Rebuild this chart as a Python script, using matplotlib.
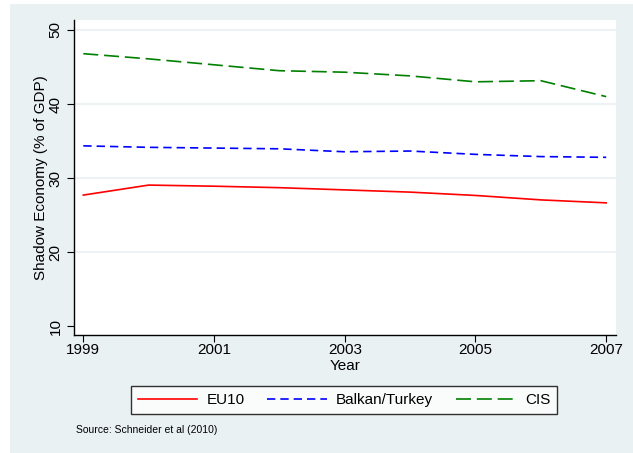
import matplotlib.pyplot as plt
import matplotlib.patches as mpatches

plt.rcParams['font.family'] = ['Liberation Sans', 'DejaVu Sans']

# Data
years = [1999, 2000, 2001, 2002, 2003, 2004, 2005, 2006, 2007]
eu10 = [27.7, 29.05, 28.9, 28.7, 28.4, 28.1, 27.65, 27.05, 26.65]
balkan = [34.35, 34.15, 34.05, 33.95, 33.55, 33.65, 33.2, 32.9, 32.8]
cis = [46.8, 46.1, 45.3, 44.5, 44.3, 43.8, 43.0, 43.15, 41.0]
xticks = [1999, 2001, 2003, 2005, 2007]
yticks = [10, 20, 30, 40, 50]

bg = '#eaf1f3'

fig = plt.figure(figsize=(6.33, 4.53), dpi=100)
fig.patch.set_facecolor('white')
# Stata-like outer panel
fig.patches.append(mpatches.Rectangle((10/633, 0), 1, 1 - 4/453, transform=fig.transFigure,
                                      facecolor=bg, edgecolor='none', zorder=-10))

ax = fig.add_axes([73.5/633, 1 - 335/453, (616 - 73.5)/633, (335 - 20)/453])
ax.set_facecolor('white')

for y in [20, 30, 40, 50]:
    ax.axhline(y, color=bg, linewidth=1.2, zorder=0)

ax.plot(years, eu10, color='red', linewidth=1.2, label='EU10')
ax.plot(years, balkan, color='blue', linewidth=1.2, dashes=(5, 3), label='Balkan/Turkey')
ax.plot(years, cis, color='green', linewidth=1.2, dashes=(9, 3.5), label='CIS')

ax.set_xlim(1998.85, 2007.15)
ax.set_ylim(8.8, 51.35)
ax.set_xticks(xticks)
ax.set_xticklabels([str(v) for v in xticks], fontsize=11)
ax.set_yticks(yticks)
ax.set_yticklabels([str(v) for v in yticks], fontsize=11, rotation=90, va='center')
ax.tick_params(axis='both', length=5, width=0.8, color='black')
ax.tick_params(axis='x', pad=1)
ax.tick_params(axis='y', pad=3)

for s in ['top', 'right']:
    ax.spines[s].set_visible(False)
for s in ['left', 'bottom']:
    ax.spines[s].set_linewidth(1.0)

ax.set_xlabel('Year', fontsize=11, labelpad=1)
ax.set_ylabel('Shadow Economy (% of GDP)', fontsize=11, labelpad=0)

leg = fig.legend(loc='center', bbox_to_anchor=(344/633, 1 - 400/453), ncol=3, fontsize=11,
                 frameon=True, fancybox=False, handlelength=3.9, columnspacing=1.5,
                 borderpad=0.45, handletextpad=0.6)
leg.get_frame().set_edgecolor('black')
leg.get_frame().set_linewidth(1.0)
leg.get_frame().set_facecolor('white')

fig.text(76/633, 1 - 430/453, 'Source: Schneider et al (2010)', fontsize=7.5, va='center')

fig.savefig('out.png', dpi=100)
